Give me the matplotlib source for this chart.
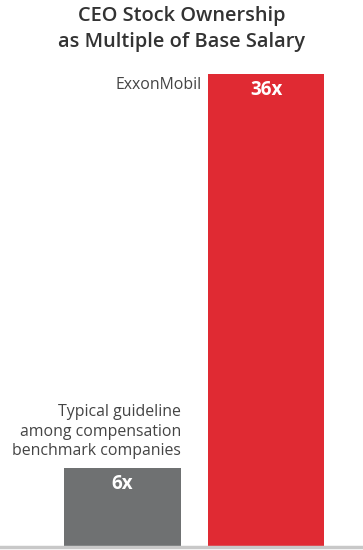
import matplotlib.pyplot as plt

# chart data
labels = ["Typical guideline\namong compensation\nbenchmark companies", "ExxonMobil"]
values = [6, 36]
value_text = ["6x", "36x"]
colors = ["#6f7172", "#e02a33"]

plt.rcParams["font.family"] = ["Open Sans", "DejaVu Sans"]

W, H = 363, 550
fig = plt.figure(figsize=(W / 100, H / 100), dpi=100)
# axes: bottom at y=547px, value 36 at y=74px
bottom_px, top_px = 547, 74
ax = fig.add_axes([0, (H - bottom_px) / H, 1, (bottom_px - top_px) / H])

x = [0, 1]
ax.bar(x, values, width=0.815, color=colors, zorder=1)
ax.set_xlim(-0.854, 1.676)
ax.set_ylim(0, 36)

# value labels inside bars
unit = 36 / (bottom_px - top_px)  # data units per pixel
for xi, v, t in zip(x, values, value_text):
    ax.text(xi, v - 16 * unit, t, ha="center", va="center", color="white",
            fontsize=13.5, fontweight="bold")

# category labels to the left of the bars
ax.text(0.4075, 6 + 9 * unit, labels[0], ha="right", va="bottom", color="#444444",
        fontsize=11.4, linespacing=1.28)
ax.text(1 - 0.4075 - 6 / 143.5, 36 - 11 * unit, labels[1], ha="right", va="center",
        color="#444444", fontsize=11.4)

for s in ["top", "left", "right"]:
    ax.spines[s].set_visible(False)
ax.spines["bottom"].set_color("#c8c8c8")
ax.spines["bottom"].set_linewidth(2.5)
ax.set_xticks([])
ax.set_yticks([])

fig.text(0.5, 1 - 28.5 / H, "CEO Stock Ownership\nas Multiple of Base Salary", ha="center",
         va="center", fontsize=14.4, color="#333333", fontweight="semibold", linespacing=1.4)

fig.savefig("out.png", dpi=100)
